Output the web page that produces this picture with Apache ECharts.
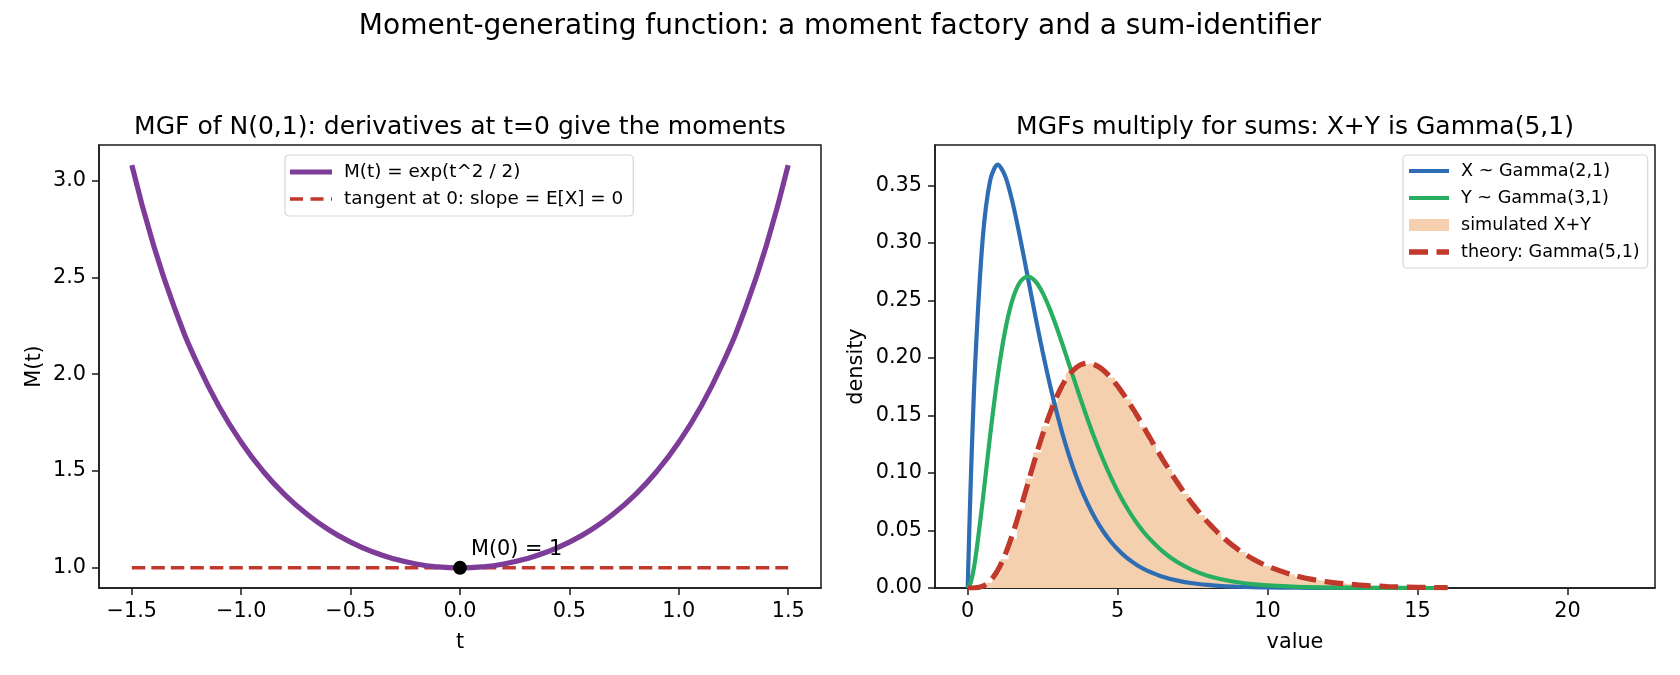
<!DOCTYPE html>
<html>
<head>
<meta charset="utf-8">
<title>Moment-generating function</title>
<script src="https://cdn.jsdelivr.net/npm/echarts@6.0.0/dist/echarts.min.js"></script>
<style>
  html, body { margin: 0; padding: 0; background: #ffffff; }
  #chart { width: 1680px; height: 675px; }
</style>
</head>
<body>
<div id="chart"></div>
<script>
// left panel: MGF of N(0,1)
const tValues = [-1.5, -1.4, -1.3, -1.2, -1.1, -1.0, -0.9, -0.8, -0.7, -0.6, -0.5, -0.4, -0.3, -0.2, -0.1,
  0, 0.1, 0.2, 0.3, 0.4, 0.5, 0.6, 0.7, 0.8, 0.9, 1.0, 1.1, 1.2, 1.3, 1.4, 1.5]
const mValues = [3.080, 2.664, 2.328, 2.054, 1.831, 1.649, 1.499, 1.377, 1.278, 1.197, 1.133, 1.083, 1.046, 1.020, 1.005,
  1.000, 1.005, 1.020, 1.046, 1.083, 1.133, 1.197, 1.278, 1.377, 1.499, 1.649, 1.831, 2.054, 2.328, 2.664, 3.080]
const tangentT = [-1.5, 1.5]
const tangentM = [1.0, 1.0]
const leftXTicks = [-1.5, -1.0, -0.5, 0.0, 0.5, 1.0, 1.5]
const leftYTicks = [1.0, 1.5, 2.0, 2.5, 3.0]

// right panel: Gamma densities
const gridX = [0, 0.1, 0.25, 0.5, 0.75, 1, 1.25, 1.5, 1.75, 2, 2.25, 2.5, 2.75, 3, 3.25, 3.5, 3.75, 4,
  4.25, 4.5, 4.75, 5, 5.25, 5.5, 5.75, 6, 6.5, 7, 7.5, 8, 8.5, 9, 9.5, 10, 11, 12, 13, 14, 15, 16]
const gammaX = [0, 0.0905, 0.1947, 0.3033, 0.3543, 0.3679, 0.3581, 0.3347, 0.3041, 0.2707, 0.2371, 0.2052,
  0.1758, 0.1494, 0.1260, 0.1057, 0.0882, 0.0733, 0.0606, 0.0500, 0.0411, 0.0337, 0.0275, 0.0225, 0.0182,
  0.0149, 0.0098, 0.0064, 0.0041, 0.0027, 0.0017, 0.0011, 0.0007, 0.0005, 0.0002, 0.0001, 0, 0, 0, 0]
const gammaY = [0, 0.0045, 0.0243, 0.0758, 0.1329, 0.1839, 0.2238, 0.2510, 0.2661, 0.2707, 0.2668, 0.2565,
  0.2417, 0.2240, 0.2048, 0.1850, 0.1654, 0.1465, 0.1288, 0.1125, 0.0976, 0.0842, 0.0723, 0.0618, 0.0525,
  0.0446, 0.0318, 0.0223, 0.0156, 0.0107, 0.0074, 0.0050, 0.0034, 0.0023, 0.0010, 0.0004, 0.0002, 0.0001, 0, 0]
const gammaSum = [0, 0, 0.0001, 0.0016, 0.0062, 0.0153, 0.0291, 0.0471, 0.0679, 0.0902, 0.1126, 0.1336,
  0.1522, 0.1680, 0.1803, 0.1888, 0.1938, 0.1954, 0.1938, 0.1898, 0.1835, 0.1755, 0.1663, 0.1562, 0.1456,
  0.1339, 0.1118, 0.0912, 0.0729, 0.0573, 0.0443, 0.0337, 0.0254, 0.0189, 0.0102, 0.0053, 0.0027, 0.0013, 0.0006, 0.0003]

// simulated X+Y histogram (density per bin, bins start at 0)
const histBinWidth = 0.2729
const histDensity = [
  0.0000, 0.0010, 0.0045, 0.0128, 0.0250, 0.0425, 0.0688, 0.0951, 0.1180, 0.1405,
  0.1615, 0.1745, 0.1870, 0.1935, 0.1950, 0.1945, 0.1890, 0.1830, 0.1730, 0.1640,
  0.1510, 0.1400, 0.1270, 0.1160, 0.1035, 0.0930, 0.0820, 0.0730, 0.0635, 0.0560,
  0.0482, 0.0422, 0.0360, 0.0312, 0.0265, 0.0230, 0.0192, 0.0166, 0.0137, 0.0118,
  0.0097, 0.0084, 0.0068, 0.0059, 0.0047, 0.0041, 0.0032, 0.0028, 0.0022, 0.0019,
  0.0015, 0.0013, 0.0010, 0.0009, 0.0007, 0.0006, 0.0005, 0.0004, 0.0003]
const rightXTicks = [0, 5, 10, 15, 20]
const rightYTicks = [0, 0.05, 0.10, 0.15, 0.20, 0.25, 0.30, 0.35]

const FONT = 'DejaVu Sans'
const INK = '#1a1a1a'
const COLORS = {
  mgf: '#7d3c98',
  tangent: '#c0392b',
  x: '#2e6db4',
  y: '#27ae60',
  hist: '#f5d0ae',
  theory: '#c0392b',
}

// legend glyphs (keepAspect keeps them thin inside the item box)
const ICON_SOLID_THICK = 'path://M0,0h42v5.2h-42z'
const ICON_DASH_LEFT = 'path://M0,0h13v3.6h-13z M20.5,0h13v3.6h-13z M41,0h1v3.6h-1z'
const ICON_SOLID = 'path://M0,0h40v4.2h-40z'
const ICON_DASH_RIGHT = 'path://M0,0h19v5.4h-19z M27.5,0h12.5v5.4h-12.5z'

const pairs = (xs, ys) => xs.map((x, i) => [x, ys[i]])

// step outline for the histogram
const histPoints = []
histDensity.forEach((h, i) => histPoints.push([i * histBinWidth, h]))
histPoints.push([histDensity.length * histBinWidth, 0])

const fmtMinus = (v, digits) => v.toFixed(digits).replace('-', '\u2212')

const axisCommon = {
  axisLine: { show: true, onZero: false, lineStyle: { color: INK, width: 1.5 } },
  axisTick: { show: true, length: 7, lineStyle: { color: INK, width: 1.5 } },
  splitLine: { show: false },
  nameTextStyle: { fontFamily: FONT, fontSize: 20.8, color: '#000' },
}

const makeAxis = (gridIndex, min, max, ticks, digits, name, nameGap) => ({
  ...axisCommon,
  type: 'value',
  gridIndex,
  min,
  max,
  name,
  nameLocation: 'middle',
  nameGap,
  axisTick: { ...axisCommon.axisTick, customValues: ticks },
  axisLabel: {
    customValues: ticks,
    margin: 13,
    fontFamily: FONT,
    fontSize: 20.8,
    color: '#000',
    formatter: (v) => fmtMinus(v, digits),
  },
})

const legendCommon = {
  orient: 'vertical',
  backgroundColor: '#ffffff',
  borderColor: '#d6d6d6',
  borderWidth: 1.2,
  borderRadius: 4,
  itemGap: 7,
  itemWidth: 42,
  itemHeight: 12,
  symbolKeepAspect: true,
  textStyle: { fontFamily: FONT, fontSize: 18.4, color: '#000', lineHeight: 20, padding: [0, 0, 0, 7] },
}

const chart = echarts.init(document.getElementById('chart'), null, { renderer: 'canvas' })

chart.setOption({
  animation: false,
  backgroundColor: '#ffffff',
  title: [
    {
      text: 'Moment-generating function: a moment factory and a sum-identifier',
      left: 840, top: 13, textAlign: 'center', padding: 0,
      textStyle: { fontFamily: FONT, fontSize: 28, fontWeight: 'normal', color: '#000' },
    },
    {
      text: 'MGF of N(0,1): derivatives at t=0 give the moments',
      left: 460, top: 115, textAlign: 'center', padding: 0,
      textStyle: { fontFamily: FONT, fontSize: 25, fontWeight: 'normal', color: '#000' },
    },
    {
      text: 'MGFs multiply for sums: X+Y is Gamma(5,1)',
      left: 1295, top: 115, textAlign: 'center', padding: 0,
      textStyle: { fontFamily: FONT, fontSize: 25, fontWeight: 'normal', color: '#000' },
    },
  ],
  grid: [
    { left: 99, top: 145, width: 722, height: 443, show: true, borderColor: INK, borderWidth: 1.5, backgroundColor: 'transparent' },
    { left: 935, top: 145, width: 720, height: 443, show: true, borderColor: INK, borderWidth: 1.5, backgroundColor: 'transparent' },
  ],
  legend: [
    {
      ...legendCommon,
      left: 285, top: 155,
      padding: [7, 10, 7, 5],
      data: [
        { name: 'M(t) = exp(t^2 / 2)', icon: ICON_SOLID_THICK, itemStyle: { color: COLORS.mgf } },
        { name: 'tangent at 0: slope = E[X] = 0', icon: ICON_DASH_LEFT, itemStyle: { color: COLORS.tangent } },
      ],
    },
    {
      ...legendCommon,
      left: 1403, top: 155,
      padding: [6, 8, 6, 6],
      itemWidth: 40,
      textStyle: { ...legendCommon.textStyle, fontSize: 17.6 },
      data: [
        { name: 'X ~ Gamma(2,1)', icon: ICON_SOLID, itemStyle: { color: COLORS.x } },
        { name: 'Y ~ Gamma(3,1)', icon: ICON_SOLID, itemStyle: { color: COLORS.y } },
        { name: 'simulated X+Y', icon: 'rect', itemStyle: { color: COLORS.hist } },
        { name: 'theory: Gamma(5,1)', icon: ICON_DASH_RIGHT, itemStyle: { color: COLORS.theory } },
      ],
    },
  ],
  xAxis: [
    makeAxis(0, -1.65, 1.65, leftXTicks, 1, 't', 44),
    makeAxis(1, -1.09, 22.92, rightXTicks, 0, 'value', 44),
  ],
  yAxis: [
    makeAxis(0, 0.896, 3.184, leftYTicks, 1, 'M(t)', 54),
    makeAxis(1, 0, 0.385, rightYTicks, 2, 'density', 68),
  ],
  series: [
    {
      name: 'M(t) = exp(t^2 / 2)',
      type: 'line',
      xAxisIndex: 0, yAxisIndex: 0,
      data: pairs(tValues, mValues),
      smooth: true,
      symbol: 'none',
      lineStyle: { color: COLORS.mgf, width: 5.2 },
      itemStyle: { color: COLORS.mgf },
      z: 3,
    },
    {
      name: 'tangent at 0: slope = E[X] = 0',
      type: 'line',
      xAxisIndex: 0, yAxisIndex: 0,
      data: pairs(tangentT, tangentM),
      symbol: 'none',
      lineStyle: { color: COLORS.tangent, width: 3.5, type: [13.5, 6] },
      itemStyle: { color: COLORS.tangent },
      z: 2,
    },
    {
      name: 'point',
      type: 'scatter',
      xAxisIndex: 0, yAxisIndex: 0,
      data: [[0, 1]],
      symbolSize: 14,
      itemStyle: { color: '#000', opacity: 1 },
      label: {
        show: true,
        position: 'right',
        offset: [-1, -18],
        formatter: 'M(0) = 1',
        fontFamily: FONT,
        fontSize: 20.8,
        color: '#000',
      },
      z: 4,
    },
    {
      name: 'simulated X+Y',
      type: 'line',
      xAxisIndex: 1, yAxisIndex: 1,
      data: histPoints,
      step: 'end',
      symbol: 'none',
      lineStyle: { width: 0, color: COLORS.hist },
      itemStyle: { color: COLORS.hist },
      areaStyle: { color: COLORS.hist, opacity: 1 },
      z: 1,
    },
    {
      name: 'X ~ Gamma(2,1)',
      type: 'line',
      xAxisIndex: 1, yAxisIndex: 1,
      data: pairs(gridX, gammaX),
      smooth: 0.3,
      symbol: 'none',
      lineStyle: { color: COLORS.x, width: 4.2 },
      itemStyle: { color: COLORS.x },
      z: 2,
    },
    {
      name: 'Y ~ Gamma(3,1)',
      type: 'line',
      xAxisIndex: 1, yAxisIndex: 1,
      data: pairs(gridX, gammaY),
      smooth: 0.3,
      symbol: 'none',
      lineStyle: { color: COLORS.y, width: 4.2 },
      itemStyle: { color: COLORS.y },
      z: 2,
    },
    {
      name: 'theory: Gamma(5,1)',
      type: 'line',
      xAxisIndex: 1, yAxisIndex: 1,
      data: pairs(gridX, gammaSum),
      smooth: 0.3,
      symbol: 'none',
      lineStyle: { color: COLORS.theory, width: 5.2, type: [19, 8.5] },
      itemStyle: { color: COLORS.theory },
      z: 3,
    },
  ],
})
</script>
</body>
</html>
